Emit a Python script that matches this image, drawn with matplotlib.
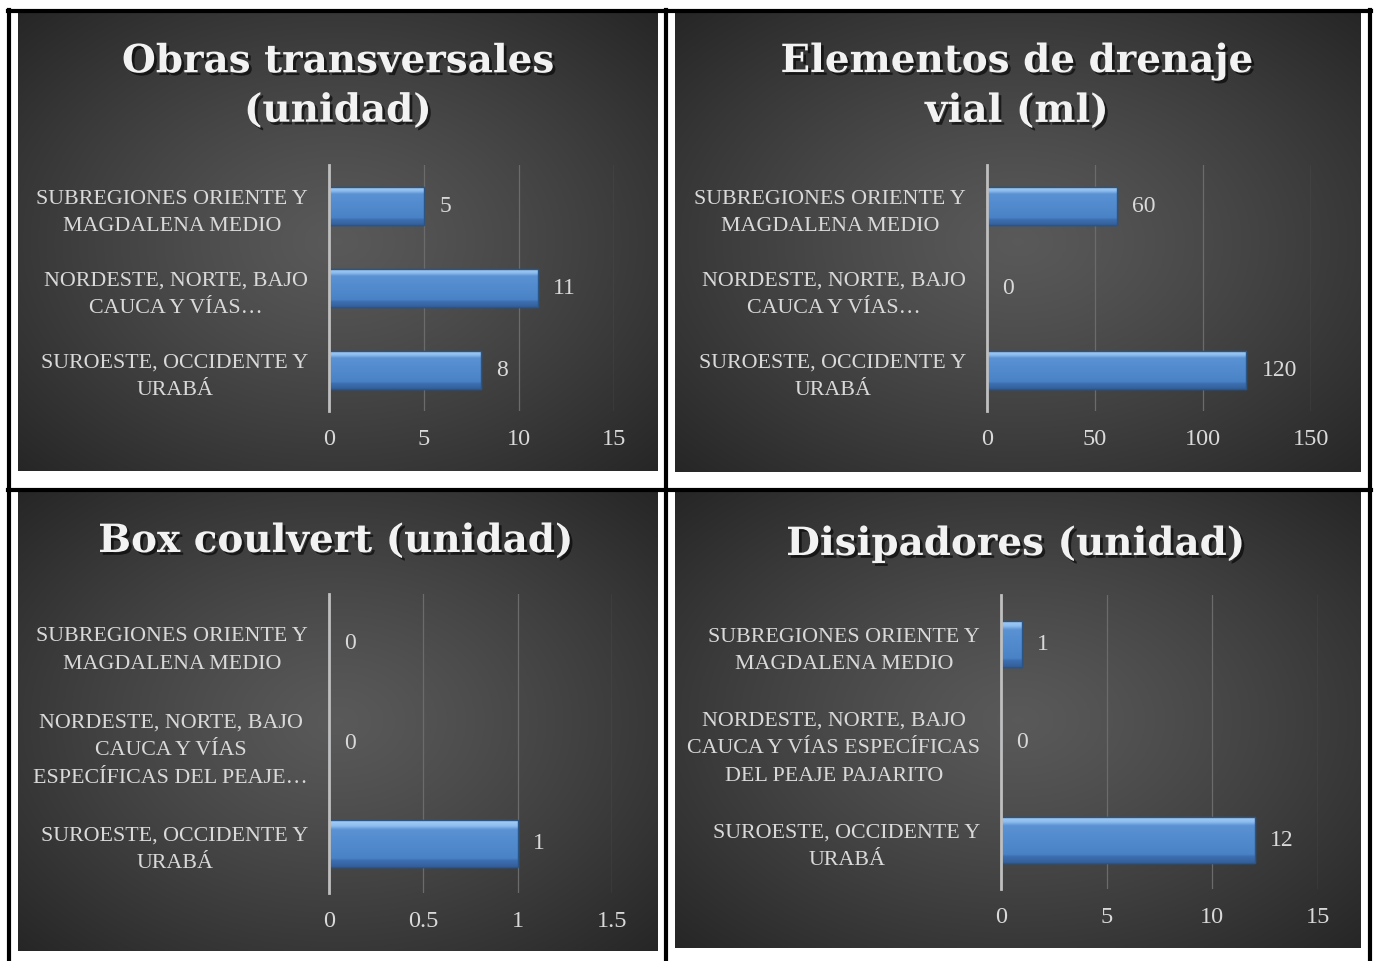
import numpy as np
import matplotlib
matplotlib.use("Agg")
import matplotlib.pyplot as plt
import matplotlib.patheffects as pe
from matplotlib.lines import Line2D
from matplotlib.colors import LinearSegmentedColormap

plt.rcParams['font.family'] = ['Liberation Serif', 'DejaVu Serif']

# data (top to bottom as in the chart)
cats_a = ["SUBREGIONES ORIENTE Y\nMAGDALENA MEDIO",
          "NORDESTE, NORTE, BAJO\nCAUCA Y VÍAS…",
          "SUROESTE, OCCIDENTE Y\nURABÁ"]
cats_box = ["SUBREGIONES ORIENTE Y\nMAGDALENA MEDIO",
            "NORDESTE, NORTE, BAJO\nCAUCA Y VÍAS\nESPECÍFICAS DEL PEAJE…",
            "SUROESTE, OCCIDENTE Y\nURABÁ"]
cats_dis = ["SUBREGIONES ORIENTE Y\nMAGDALENA MEDIO",
            "NORDESTE, NORTE, BAJO\nCAUCA Y VÍAS ESPECÍFICAS\nDEL PEAJE PAJARITO",
            "SUROESTE, OCCIDENTE Y\nURABÁ"]

obras = [5, 11, 8]
drenaje = [60, 0, 120]
box = [0, 0, 1]
disipadores = [1, 0, 12]

W, H = 1374, 961
fig = plt.figure(figsize=(W / 100, H / 100), dpi=100)
fig.patch.set_facecolor('white')

# bar shading, top to bottom
bar_cmap = LinearSegmentedColormap.from_list(
    'bevel', [(0, '#a6d0f7'), (0.12, '#8dbdf0'), (0.2, '#5a92d4'),
              (0.6, '#4f88cb'), (0.82, '#4a82c6'), (0.86, '#3c70b2'),
              (1, '#355f98')])


def rect(x0, y0, x1, y1):
    return [x0 / W, 1 - y1 / H, (x1 - x0) / W, (y1 - y0) / H]


def background(box_px):
    ax = fig.add_axes(rect(*box_px))
    yy, xx = np.mgrid[-1:1:200j, -1:1:200j]
    r = np.sqrt(xx ** 2 + yy ** 2) / np.sqrt(2)
    g = 0.35 - 0.2 * r ** 1.2
    ax.imshow(np.dstack([g, g, g]), aspect='auto', extent=[0, 1, 0, 1])
    ax.set_axis_off()


def panel(ax_px, title, title_y, title_x, cats, vals, xmax, ticks):
    ax = fig.add_axes(rect(*ax_px))
    ax.patch.set_alpha(0)
    y = np.arange(len(cats))
    h = 0.47
    bars = ax.barh(y, vals, height=h, color='#4f88cb', edgecolor='#2b5585',
                   linewidth=1.0, zorder=3)
    grad = np.linspace(0, 1, 100).reshape(-1, 1)
    for b in bars:
        if b.get_width() <= 0:
            continue
        x0, y0 = b.get_x(), b.get_y()
        im = ax.imshow(grad, cmap=bar_cmap, aspect='auto', zorder=4,
                       extent=[x0, x0 + b.get_width(), y0 + b.get_height(), y0],
                       interpolation='bilinear')
        im.set_clip_path(b)
        ax.add_patch(plt.Rectangle((x0, y0), b.get_width(), b.get_height(),
                                   fill=False, edgecolor='#2b5585',
                                   linewidth=1.0, zorder=5))
    for yi, v in zip(y, vals):
        ax.annotate(f"{v}", (v, yi), xytext=(11, 0), textcoords='offset points',
                    ha='left', va='center', fontsize=17, color='#d9d9d9')
    ax.set_xlim(0, xmax)
    ax.set_ylim(len(cats) - 0.5, -0.5)
    ax.set_xticks(ticks)
    ax.set_xticklabels([f"{t:g}" for t in ticks])
    ax.set_yticks(y)
    ax.set_yticklabels(cats, linespacing=1.62, multialignment='center')
    ax.tick_params(axis='x', length=0, pad=13, labelsize=17.5, colors='#d9d9d9')
    ax.tick_params(axis='y', length=0, pad=15, labelsize=15.8, colors='#d9d9d9')
    ax.grid(axis='x', color='#6b6b6b', linewidth=0.9, zorder=0)
    for s in ['top', 'right', 'bottom']:
        ax.spines[s].set_visible(False)
    ax.spines['left'].set_color('#bfbfbf')
    ax.spines['left'].set_linewidth(2)
    ax.spines['left'].set_zorder(6)
    fig.text(title_x / W, 1 - title_y / H, title, ha='center', va='center',
             fontsize=28, fontweight='bold', color='#f2f2f2', linespacing=1.38,
             family=['DejaVu Serif'],
             path_effects=[pe.withSimplePatchShadow(offset=(2, -2),
                                                    shadow_rgbFace='black',
                                                    alpha=0.6)])
    return ax


background((18, 12, 658, 471))
background((675, 12, 1361, 472))
background((18, 491, 658, 951))
background((675, 492, 1361, 948))

panel((329, 165, 614, 411), "Obras transversales\n(unidad)", 86, 338,
      cats_a, obras, 15, [0, 5, 10, 15])
panel((987, 165, 1311, 411), "Elementos de drenaje\nvial (ml)", 86, 1017,
      cats_a, drenaje, 150, [0, 50, 100, 150])
panel((329, 594, 612, 893), "Box coulvert (unidad)", 541, 336,
      cats_box, box, 1.5, [0, 0.5, 1, 1.5])
panel((1001, 595, 1318, 889), "Disipadores (unidad)", 544, 1016,
      cats_dis, disipadores, 15, [0, 5, 10, 15])


# table borders
def hline(y, x0, x1, lw=3):
    fig.add_artist(Line2D([x0 / W, x1 / W], [1 - y / H, 1 - y / H],
                          color='black', linewidth=lw))


def vline(x, y0, y1, lw=3):
    fig.add_artist(Line2D([x / W, x / W], [1 - y0 / H, 1 - y1 / H],
                          color='black', linewidth=lw))


hline(11, 8, 1371)
hline(490, 8, 1371)
vline(9, 10, 961)
vline(666, 10, 961)
vline(1370, 10, 961)

fig.savefig("out.png", dpi=100, facecolor=fig.get_facecolor())
